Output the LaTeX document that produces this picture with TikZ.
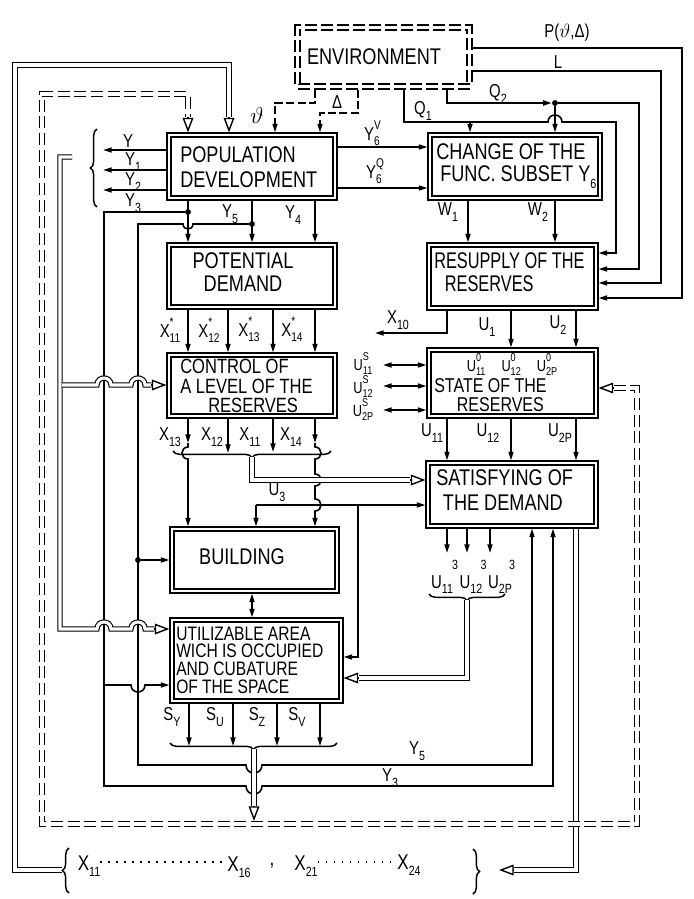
\documentclass[tikz,border=0pt]{standalone}
\usepackage{fontspec}
\setmainfont{Liberation Sans}[FakeStretch=0.8]
\newfontfamily\narrowfont{Liberation Sans}[FakeStretch=0.72]
\usetikzlibrary{arrows.meta,fit,calc,decorations.pathreplacing}
\newcommand{\sbs}[1]{\raisebox{-0.3em}{\fontsize{10}{10}\selectfont #1}}
\newcommand{\sbsp}[2]{\makebox[0pt][l]{\raisebox{0.6em}{\fontsize{9.5}{10}\selectfont #2}}\raisebox{-0.28em}{\fontsize{9.5}{10}\selectfont #1}}
\newcommand{\sbsps}[2]{\makebox[0pt][l]{\raisebox{0.58em}{\fontsize{8.5}{9}\selectfont #2}}\raisebox{-0.25em}{\fontsize{8.5}{9}\selectfont #1}}
\newcommand{\sbhi}[2]{\makebox[0pt][l]{\hspace{0.55em}\raisebox{1.0em}{\fontsize{10}{10}\selectfont #2}}\raisebox{-0.3em}{\fontsize{10}{10}\selectfont #1}}
\begin{document}
\begin{tikzpicture}[x=0.75pt,y=-0.75pt,
  ln/.style={line width=1.2pt},
  ar/.style={ln,-{Triangle[length=6.5pt,width=3.8pt]}},
  bar/.style={ln,{Triangle[length=6.5pt,width=3.8pt]}-{Triangle[length=6.5pt,width=3.8pt]}},
  box/.style={draw,line width=1.15pt,double,double distance=1.5pt,inner sep=0pt,outer sep=1.9pt},
  envbox/.style={draw,line width=1.05pt,double,double distance=2.7pt,dash pattern=on 9pt off 3pt,inner sep=0pt,outer sep=2.4pt},
  bt/.style={inner sep=0pt,align=left},
  lb/.style={inner sep=0pt,font=\fontsize{14}{16}\selectfont},
  lbs/.style={inner sep=0pt,font=\fontsize{12}{14}\selectfont},
  xf/.style={inner sep=0pt,font=\fontsize{16}{18}\selectfont},
  dbl/.style={double,line width=0.85pt,double distance=2.3pt},
  tri/.style={line width=1.05pt,-{Triangle[open,length=11pt,width=8pt]}},
  dsh/.style={ln,dash pattern=on 6pt off 2.5pt},
  ddsh/.style={dbl,dash pattern=on 9pt off 3.5pt},
  brc/.style={decorate,decoration={brace,amplitude=5pt},line width=1.1pt},
  dotn/.style={circle,fill,inner sep=0pt,minimum size=4.4pt},
  dots/.style={line width=1.1pt,dash pattern=on 1pt off 5pt}]
\useasboundingbox (0,0) rectangle (693,899);

% ---------------- boxes ----------------
\node[envbox,fit={(297.5,27.5)(469.5,86.5)}] (env) {};
\node[box,fit={(169,135)(335,198)}] (pop) {};
\node[box,fit={(430,135)(600,198)}] (chg) {};
\node[box,fit={(169,245)(335,307)}] (pot) {};
\node[box,fit={(429,245)(596,308)}] (res) {};
\node[box,fit={(169,355)(335,416)}] (ctl) {};
\node[box,fit={(429,350)(596,416)}] (sta) {};
\node[box,fit={(428,463)(596,526)}] (sat) {};
\node[box,fit={(172,529)(337,591)}] (bld) {};
\node[box,fit={(172,620)(341,701)}] (uti) {};

% ---------------- box texts ----------------
\node[bt,font=\fontsize{17}{19}\selectfont] (envt) at (374,57) {ENVIRONMENT};
\node[bt,anchor=west,font=\fontsize{17}{18.8}\selectfont] (popt) at (180,167) {POPULATION\\DEVELOPMENT};
\node[bt,anchor=west,font=\fontsize{17}{16.8}\selectfont] (chgt) at (436,166) {CHANGE OF THE\\\hspace{3pt}FUNC. SUBSET Y\sbs{6}};
\node[bt,align=center,font=\fontsize{17}{16.8}\selectfont] (pott) at (243,272) {POTENTIAL\\DEMAND};
\node[bt,anchor=west,font={\narrowfont\fontsize{17}{17.3}\selectfont}] (rest) at (434,272) {RESUPPLY OF THE\\\hspace{8pt}RESERVES};
\node[bt,anchor=west,font=\fontsize{15.5}{14.6}\selectfont] (ctlt) at (180,386) {CONTROL OF\\A LEVEL OF THE\\\hspace{21pt}RESERVES};
\node[lbs,anchor=base] (sta0) at (512,371) {U\sbsps{11}{0}\hspace{1em}U\sbsps{12}{0}\hspace{1em}U\sbsps{2P}{0}};
\node[bt,anchor=north west,font=\fontsize{15}{14.4}\selectfont] (statt) at (434,378) {STATE OF THE\\\hspace{17pt}RESERVES};
\node[bt,anchor=west,font=\fontsize{17}{18.8}\selectfont] (satt) at (436,490) {SATISFYING OF\\\hspace{5pt}THE DEMAND};
\node[bt,font=\fontsize{17}{19}\selectfont] (bldt) at (242,557) {BUILDING};
\node[bt,anchor=west,font=\fontsize{14.6}{13.2}\selectfont] (utit) at (176,660) {UTILIZABLE AREA\\WICH IS OCCUPIED\\AND CUBATURE\\OF THE SPACE};

% ---------------- environment links ----------------
\draw[dsh,-{Triangle[length=6.5pt,width=3.8pt]}] (315,0 |- env.south) -- (315,103) -- (275,103) -- (275,0 |- pop.north);
\draw[dsh,-{Triangle[length=6.5pt,width=3.8pt]}] (358,0 |- env.south) -- (358,113) -- (320,113) -- (320,0 |- pop.north);
\coordinate (q1j) at (470,122);
\draw[ar] (404,0 |- env.south) -- (404,122) -- (548,122) .. controls (548,112.7) and (562,112.7) .. (562,122) -- (616,122) -- (616,253) -- (res.east |- 0,253);
\draw[ar] (q1j) -- (470,0 |- chg.north);
\node[dotn] (d4) at (555,103) {};
\draw[ar] (447,0 |- env.south) -- (447,103) -- (d4);
\draw[ar] (d4) -- (555,0 |- chg.north);
\draw[ar] (d4) -- (639,103) -- (639,269) -- (res.east |- 0,269);
\draw[ar] (env.east |- 0,71) -- (661,71) -- (661,283) -- (res.east |- 0,283);
\draw[ar] (env.east |- 0,48) -- (682,48) -- (682,298) -- (res.east |- 0,298);

% ---------------- population outputs ----------------
\draw[ar] (pop.west |- 0,150) -- (103,150) coordinate (oY);
\draw[ar] (pop.west |- 0,170) -- (103,170) coordinate (oY1);
\draw[ar] (pop.west |- 0,190) -- (103,190) coordinate (oY2);
\draw[brc] (97,207) -- (97,129);
\node[dotn] (d1) at (188,212) {};
\draw[ar] (188,0 |- pop.south) -- (188,0 |- pot.north);
\draw[ar] (d1) -- (104,212) -- (104,786) -- (246,786) .. controls (246,796.7) and (262,796.7) .. (262,786) -- (553,786) -- (553,0 |- sat.south);
\coordinate (j1) at (104,685);
\draw[ar] (j1) -- (131,685) .. controls (131,694.3) and (145,694.3) .. (145,685) -- (uti.west |- 0,685);
\node[dotn] (d2) at (252,224) {};
\draw[ar] (252,0 |- pop.south) -- (252,0 |- pot.north);
\draw[ar] (d2) -- (193,224) .. controls (193,230.7) and (183,230.7) .. (183,224) -- (138,224) -- (138,765) -- (246,765) .. controls (246,775.7) and (262,775.7) .. (262,765) -- (532,765) -- (532,0 |- sat.south);
\node[dotn] (d3) at (138,560) {};
\draw[ar] (d3) -- (bld.west |- d3);
\draw[ar] (315,0 |- pop.south) -- (315,0 |- pot.north);
\draw[ar] (pop.east |- 0,147) -- (chg.west |- 0,147);
\draw[ar] (pop.east |- 0,188) -- (chg.west |- 0,188);

% ---------------- right column ----------------
\draw[ar] (468,0 |- chg.south) -- (468,0 |- res.north);
\draw[ar] (555,0 |- chg.south) -- (555,0 |- res.north);
\draw[ar] (511,0 |- res.south) -- (511,0 |- sta.north);
\draw[ar] (576,0 |- res.south) -- (576,0 |- sta.north);
\draw[ar] (447,0 |- res.south) -- (447,333) -- (375,333) coordinate (x10);
\draw[bar] (383,365) coordinate (us1) -- (sta.west |- 0,365);
\draw[bar] (383,386) coordinate (us2) -- (sta.west |- 0,386);
\draw[bar] (383,410) coordinate (us3) -- (sta.west |- 0,410);
\draw[ar] (447,0 |- sta.south) -- (447,0 |- sat.north);
\draw[ar] (511,0 |- sta.south) -- (511,0 |- sat.north);
\draw[ar] (576,0 |- sta.south) -- (576,0 |- sat.north);
\draw[ar] (447,0 |- sat.south) -- (447,553);
\draw[ar] (467,0 |- sat.south) -- (467,553);
\draw[ar] (490,0 |- sat.south) -- (490,553);
\draw[brc] (505,594) -- (429,594);
\draw[dbl] (467,600) -- (467,678) -- ($(uti.east |- 0,678)+(15,0)$);
\draw[tri] ($(uti.east |- 0,678)+(15,0)$) -- (uti.east |- 0,678);
\coordinate (brR) at (499,870);
\draw[dbl] (576,0 |- sat.south) -- (576,870) -- ($(brR)+(15,0)$);
\draw[tri] ($(brR)+(15,0)$) -- (brR);

% ---------------- left column ----------------
\draw[ar] (188,0 |- pot.south) -- (188,0 |- ctl.north);
\draw[ar] (228,0 |- pot.south) -- (228,0 |- ctl.north);
\draw[ar] (273,0 |- pot.south) -- (273,0 |- ctl.north);
\draw[ar] (315,0 |- pot.south) -- (315,0 |- ctl.north);
\coordinate (x13m) at (188,443);
\draw[ar] (188,0 |- ctl.south) -- (x13m);
\draw[ar] (x13m) -- (188,447) .. controls (180,447) and (180,459) .. (188,459) -- (188,0 |- bld.north);
\draw[ar] (228,0 |- ctl.south) -- (228,453);
\draw[ar] (273,0 |- ctl.south) -- (273,452);
\coordinate (x14m) at (315,443);
\draw[ar] (315,0 |- ctl.south) -- (x14m);
\draw[ar] (x14m) -- (315,447) .. controls (323,447) and (323,459) .. (315,459) -- (315,474) .. controls (323,474) and (323,486) .. (315,486) -- (315,499) .. controls (323,499) and (323,511) .. (315,511) -- (315,0 |- bld.north);
\draw[brc] (331,451) -- (173,451);
\draw[dbl] (252,457) -- (252,480) -- ($(sat.west |- 0,480)+(-15,0)$);
\draw[tri] ($(sat.west |- 0,480)+(-15,0)$) -- (sat.west |- 0,480);
\coordinate (u3) at (256,505);
\draw[ar] (u3) -- (sat.west |- u3);
\draw[ar] (u3) -- (256,0 |- bld.north);
\coordinate (u3b) at (358,505);
\draw[ar] (u3b) -- (358,657) -- (uti.east |- 0,657);
\draw[bar] (252,0 |- bld.south) -- (252,0 |- uti.north);
\draw[ar] (189,0 |- uti.south) -- (189,746);
\draw[ar] (233,0 |- uti.south) -- (233,746);
\draw[ar] (277,0 |- uti.south) -- (277,746);
\draw[ar] (320,0 |- uti.south) -- (320,746);
\draw[brc] (337,743) -- (170,743);
\draw[dbl] (254,749) -- (254,806);
\draw[tri] (254,806) -- (254,821);

% ---------------- double-line buses ----------------
\coordinate (bs) at (72,157);
\draw[dbl] (bs) -- (60,157) -- (60,629) -- (97,629) .. controls (97,619.7) and (111,619.7) .. (111,629) -- (131,629) .. controls (131,619.7) and (145,619.7) .. (145,629) -- ($(uti.west |- 0,629)+(-15,0)$);
\draw[tri] ($(uti.west |- 0,629)+(-15,0)$) -- (uti.west |- 0,629);
\draw[dbl] (61.6,385) -- (97,385) .. controls (97,375.7) and (111,375.7) .. (111,385) -- (131,385) .. controls (131,375.7) and (145,375.7) .. (145,385) -- ($(ctl.west |- 0,385)+(-15,0)$);
\draw[tri] ($(ctl.west |- 0,385)+(-15,0)$) -- (ctl.west |- 0,385);
\coordinate (brL) at (62,870);
\draw[dbl] (brL) -- (15,870) -- (15,65) -- (229,65) -- ($(229,0 |- pop.north)+(0,-15)$);
\draw[tri] ($(229,0 |- pop.north)+(0,-15)$) -- (229,0 |- pop.north);
\draw[ddsh] ($(sta.east |- 0,388)+(15,0)$) -- (637,388) -- (637,824) -- (42,824) -- (42,94) -- (188,94) -- ($(188,0 |- pop.north)+(0,-15)$);
\draw[tri] ($(sta.east |- 0,388)+(15,0)$) -- (sta.east |- 0,388);
\draw[tri] ($(188,0 |- pop.north)+(0,-15)$) -- (188,0 |- pop.north);

% ---------------- labels ----------------
\node[lb] (lY) at (128,141) {Y};
\node[lb] (lY1) at (133,162) {Y\sbs{1}};
\node[lb] (lY2) at (133,182) {Y\sbs{2}};
\node[lb] (lY3) at (133,203) {Y\sbs{3}};
\node[lb] (lY5) at (230,214) {Y\sbs{5}};
\node[lb] (lY4) at (293,215) {Y\sbs{4}};
\node[lb,font=\fontsize{16}{16}\selectfont] (lth) at (257,115) {$\vartheta$};
\node[lb] (lD) at (337,102) {Δ};
\node[lb] (lP) at (567,33) {P($\vartheta$,Δ)};
\node[lb] (lL) at (558,62) {L};
\node[lb] (lQ2) at (498,94) {Q\sbs{2}};
\node[lb] (lQ1) at (423,111) {Q\sbs{1}};
\node[lb] (lY6V) at (372,133) {Y\sbsp{6}{V}};
\node[lb] (lY6Q) at (374,171) {Y\sbsp{6}{Q}};
\node[lb] (lW1) at (448,212) {W\sbs{1}};
\node[lb] (lW2) at (538,212) {W\sbs{2}};
\node[lb] (lX10) at (398,320) {X\sbs{10}};
\node[lb] (lU1) at (487,327) {U\sbs{1}};
\node[lb] (lU2) at (558,325) {U\sbs{2}};
\node[lbs,anchor=base] (lUs1) at (363,370) {U\sbsps{11}{S}};
\node[lbs,anchor=base] (lUs2) at (363,393) {U\sbsps{12}{S}};
\node[lbs,anchor=base] (lUs3) at (363,416) {U\sbsps{2P}{S}};
\node[lb] (lU11) at (432,433) {U\sbs{11}};
\node[lb] (lU12) at (488,433) {U\sbs{12}};
\node[lb] (lU2P) at (560,433) {U\sbs{2P}};
\node[lb] (l3a) at (442,577) {U\sbhi{11}{3}};
\node[lb] (l3b) at (471,577) {U\sbhi{12}{3}};
\node[lb] (l3c) at (500,577) {U\sbhi{2P}{3}};
\node[lb] (xs1) at (170,330) {X\sbsp{11}{*}};
\node[lb] (xs2) at (209,330) {X\sbsp{12}{*}};
\node[lb] (xs3) at (249,329) {X\sbsp{13}{*}};
\node[lb] (xs4) at (292,329) {X\sbsp{14}{*}};
\node[lb] (x13) at (170,437) {X\sbs{13}};
\node[lb] (x12) at (212,437) {X\sbs{12}};
\node[lb] (x11) at (250,437) {X\sbs{11}};
\node[lb] (x14) at (291,437) {X\sbs{14}};
\node[lb] (lU3) at (277,492) {U\sbs{3}};
\node[lb] (sY) at (172,717) {S\sbs{Y}};
\node[lb] (sU) at (215,717) {S\sbs{U}};
\node[lb] (sZ) at (257,717) {S\sbs{Z}};
\node[lb] (sV) at (297,717) {S\sbs{V}};
\node[lb] (lY5b) at (417,751) {Y\sbs{5}};
\node[lb] (lY3b) at (390,778) {Y\sbs{3}};

% ---------------- bottom set ----------------
\draw[brc] (69,893) -- (69,848);
\draw[brc] (473,849) -- (473,894);
\node[xf] (bx11) at (89,866) {X\sbs{11}};
\node[xf] (bx16) at (239,867) {X\sbs{16}};
\node[xf] (bcm) at (272,866) {,};
\node[xf] (bx21) at (306,866) {X\sbs{21}};
\node[xf] (bx24) at (409,865) {X\sbs{24}};
\draw[dots] (bx11.east |- 0,862) -- (bx16.west |- 0,862);
\draw[dots] (bx21.east |- 0,862) -- (bx24.west |- 0,862);
\end{tikzpicture}
\end{document}
